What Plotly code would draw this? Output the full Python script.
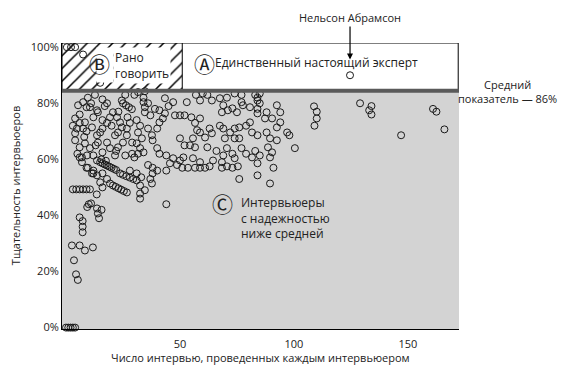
import plotly.graph_objects as go

# ---- data ----
interviews = [
    0.4, 2.2, 4, 7.5, 15, 124.6,
    0, 1, 2, 3, 4,
    2.6, 3.5, 4.4, 5.2, 6, 8.3, 11.8,
    6, 7.3, 7.3, 7.3,
    3, 4.5, 6, 7.5, 9, 10.5,
    9.3, 11, 13.5, 13.6, 15.6, 14, 14.5, 10, 44,
    15, 16, 17, 18, 19, 20, 21, 22, 15.5, 17.5,
    9, 12, 12, 13.6, 16, 18, 15, 19.3, 16,
    23.7, 25, 26.5, 28, 29.5, 31, 28, 31, 33,
    20.6, 21.8, 23, 24.2, 25.4, 26.7,
    32.5, 32.5, 32.5, 34.6, 37, 37.7, 38, 36, 38, 40, 44, 45.6, 48.7, 51,
    53.5, 56.6, 58.8, 61, 63, 68.4, 70.6, 73, 75.4, 84, 91, 76, 84, 89.5,
    6, 7, 9.6, 11.4,
    31.6, 34.6, 9.6, 12.7, 16, 24.5, 30, 34, 34, 34.6, 34.6, 43.4, 47, 5.3, 7.5,
    9, 10.5, 13.6, 14, 12, 4, 3, 4.8, 6, 8.3, 7.5, 11.4, 4, 20.6, 22.4, 19.3,
    25, 26.3, 27.6, 28.9, 16, 18, 16, 15, 13.6, 23.7, 24.5, 22.8, 21.5, 26.7,
    28, 31, 32.5, 31.6, 33.3, 31, 32.5, 31.6, 30, 29, 34, 37, 36, 37.7, 38,
    40, 41, 42.5, 43.4, 41, 47.8, 50, 50, 40, 41, 44, 47, 50, 4, 6, 8.3, 10.5,
    9.2, 7, 12, 13.6, 16, 19.3, 18, 22.8, 25, 26, 21.5, 26.7,
    58.8, 53, 64, 67.5, 70.6, 77, 83, 84, 84, 85, 84, 84, 77, 77.6, 80.7, 73,
    69, 68.4, 71, 75, 92.5, 94, 88, 87.3, 90.4, 94, 92.5, 97, 98, 100.4, 52,
    55, 58.8, 56.6, 58.8, 57.5, 63, 64, 67.5, 69, 72, 74, 76, 79, 80.7, 81.6,
    84, 88, 89.5, 88.6, 90.4, 89.5, 92.5, 55.7, 61, 69.7, 74, 76, 52, 54.4,
    56.6, 62, 66, 70.6, 77, 79, 81.6, 73, 74, 83, 85, 51.5, 55.7, 58.8, 64.5,
    68.4, 69,
    108.8, 110, 110, 109, 129, 134, 133, 134, 161, 162.5, 166, 147,
    57, 60, 62, 74, 85,
    6, 8, 11, 14, 17, 20, 23, 27, 5, 9, 13, 18, 22, 26, 29, 36, 39, 45,
]
thoroughness = [
    100, 100, 100, 97.4, 87.3, 90,
    0, 0, 0, 0, 0,
    29.3, 24, 19, 17, 29.3, 27.5, 28.6,
    39.3, 38, 36, 34,
    49.3, 49.3, 49.3, 49.3, 49.3, 49.3,
    43, 44.3, 47.5, 42.5, 42, 40.7, 39, 44, 44,
    59, 58.6, 58.2, 57.8, 57.4, 57, 56.6, 56.2, 60, 59.5,
    57, 56, 55, 54.3, 55, 53, 51.8, 51.4, 50,
    55, 54.5, 54, 53.5, 53, 52.5, 56, 55, 53.6,
    50.7, 50.2, 49.7, 49.2, 48.7, 48.2,
    50.7, 47.8, 46, 49, 53, 51.4, 55, 58, 57, 56, 56, 58.6, 58, 57,
    57, 57, 57, 57, 57.5, 57, 57.5, 57, 57.5, 58.6, 57, 53, 54.3, 51.4,
    60.7, 59, 57, 55,
    84, 84.3, 82, 83, 81.4, 81, 83, 82, 80.4, 78.6, 76.8, 81.8, 80.4, 79.3, 80.4,
    78.6, 78.6, 77.5, 76.8, 75, 74.6, 72, 71, 73, 73.2, 71, 71.4, 69.3, 76.8, 75, 75,
    80, 79.3, 78.6, 77.9, 74, 73, 71, 69.6, 68.6, 73.2, 71.4, 69.6, 68.6, 71,
    73, 74, 72, 69.6, 67.5, 65.7, 64, 62, 60.7, 62, 62.5, 75.7, 71, 68.6, 66.8,
    71, 73.2, 74.6, 76.4, 77.5, 75.7, 75.7, 67.5, 64, 62, 61.4, 60.4, 59.6, 66.8, 64.3, 65.7, 64,
    61.4, 60.7, 61.4, 59.6, 62.5, 64, 66, 64.3, 66, 61.4, 61.4, 68.6,
    81, 80.4, 81, 81.8, 82, 83, 83, 82, 81, 80, 78, 76.4, 80.4, 79.3, 78.6, 78.2,
    79.3, 76.8, 77.5, 76.8, 79.3, 76.8, 76.8, 74.6, 74.6, 73.2, 71.4, 69.6, 68.6, 64, 75.7,
    75, 74.6, 73, 69.6, 70.4, 71, 69.3, 72, 71, 69.6, 71, 71.4, 72, 73.2, 69.6,
    68.6, 69.6, 67.5, 64.3, 62.5, 60.7, 66.8, 67.5, 67.8, 67.5, 67.5, 67.5, 65, 65,
    64.3, 64.3, 63, 64, 64, 62, 60.7, 62, 60.4, 63, 61.4, 60.7, 60.4, 59, 59.6,
    59, 61.4,
    78.9, 77, 74.6, 72, 80, 79, 77.5, 76, 78, 77, 70.7, 68.6,
    83, 83.5, 83, 83.5, 83.5,
    76, 68, 80, 66, 79, 72, 77, 75, 62, 70, 65, 80, 63, 83, 66, 80, 78, 79,
]
y_ticks = [0, 20, 40, 60, 80, 100]
y_tick_labels = ["0%", "20%", "40%", "60%", "80%", "100%"]
x_ticks = [50, 100, 150]
x_tick_labels = ["50", "100", "150"]

# region boundaries
X_MIN, X_MAX = -1.75, 172.4
Y_MIN, Y_MAX = -0.5, 101.5
AVG_LEVEL = 84.5
EARLY_CUTOFF = 51

FONT = "Open Sans, sans-serif"
CIRCLE_FONT = "Noto Sans CJK SC, DejaVu Sans, sans-serif"

fig = go.Figure()

# hatched "too early to tell" region
fig.add_trace(go.Scatter(
    x=[X_MIN, EARLY_CUTOFF, EARLY_CUTOFF, X_MIN, X_MIN],
    y=[AVG_LEVEL, AVG_LEVEL, Y_MAX, Y_MAX, AVG_LEVEL],
    mode="lines", line=dict(color="black", width=1),
    fill="toself", fillcolor="white",
    fillpattern=dict(shape="/", fgcolor="black", fgopacity=1, bgcolor="white",
                     size=9, solidity=0.17),
    hoverinfo="skip", showlegend=False,
))

fig.add_trace(go.Scatter(
    x=interviews, y=thoroughness, mode="markers",
    marker=dict(symbol="circle-open", size=7, color="#1a1a1a", line=dict(width=1, color="#1a1a1a")),
    showlegend=False, cliponaxis=False,
))

shapes = [
    dict(type="rect", xref="paper", yref="y", x0=0, x1=1, y0=Y_MIN, y1=AVG_LEVEL,
         fillcolor="#d3d3d3", line=dict(width=0), layer="below"),
    dict(type="rect", xref="paper", yref="y", x0=0, x1=0.998, y0=AVG_LEVEL, y1=Y_MAX,
         fillcolor="rgba(0,0,0,0)", line=dict(width=1, color="black"), layer="below"),
    dict(type="line", xref="paper", yref="y", x0=0, x1=1, y0=AVG_LEVEL, y1=AVG_LEVEL,
         line=dict(width=4, color="#5a5a5a"), layer="above"),
]

annotations = [
    dict(x=124.6, y=95.6, text="Нельсон Абрамсон", showarrow=True, ax=0, ay=-42,
         arrowhead=2, arrowsize=1, arrowwidth=1.2, arrowcolor="black",
         font=dict(size=11, color="#222", family=FONT)),
    dict(x=60.6, y=94.5, xanchor="center", yanchor="middle", showarrow=False,
         text="Ⓐ", font=dict(size=21, color="#222", family=CIRCLE_FONT)),
    dict(x=64.6, y=94.5, xanchor="left", yanchor="middle", showarrow=False,
         text="Единственный настоящий эксперт",
         font=dict(size=12, color="#222", family=FONT)),
    dict(x=17.0, y=93.6, xanchor="center", yanchor="middle", showarrow=False,
         text=" ", bgcolor="white", width=16, height=34, borderpad=0),
    dict(x=14.9, y=94.3, xanchor="center", yanchor="middle", showarrow=False,
         text="Ⓑ", font=dict(size=21, color="#222", family=CIRCLE_FONT)),
    dict(x=20.8, y=93.6, xanchor="left", yanchor="middle", showarrow=False, align="left",
         text="Рано<br>говорить", bgcolor="white",
         font=dict(size=12, color="#222", family=FONT)),
    dict(x=68.7, y=44.5, xanchor="center", yanchor="middle", showarrow=False,
         text="Ⓒ", font=dict(size=21, color="#222", family=CIRCLE_FONT)),
    dict(x=76.0, y=39.1, xanchor="left", yanchor="middle", showarrow=False, align="left",
         text="Интервьюеры<br>с надежностью<br>ниже средней",
         font=dict(size=12, color="#222", family=FONT)),
    dict(xref="paper", yref="paper", x=1.123, y=0.83, xanchor="center", yanchor="middle",
         showarrow=False, align="center", text="Средний<br>показатель — 86%",
         font=dict(size=11, color="#222", family=FONT)),
    # axis titles
    dict(xref="paper", yref="paper", x=0.5, y=-0.098, xanchor="center", yanchor="middle",
         showarrow=False, text="Число интервью, проведенных каждым интервьюером",
         font=dict(size=11, color="#222", family=FONT)),
    dict(xref="paper", yref="paper", x=-0.118, y=0.5, xanchor="center", yanchor="middle",
         showarrow=False, textangle=-90, text="Тщательность интервьюеров",
         font=dict(size=11, color="#222", family=FONT)),
]

fig.update_layout(
    width=560, height=362,
    margin=dict(l=54, r=109, t=35, b=41),
    paper_bgcolor="white", plot_bgcolor="white",
    shapes=shapes, annotations=annotations,
    font=dict(family=FONT, size=11, color="#222"),
    xaxis=dict(range=[X_MIN, X_MAX], tickvals=x_ticks, ticktext=x_tick_labels,
               showgrid=False, zeroline=False, showline=True, linecolor="black", linewidth=1,
               ticks="outside", ticklen=5, tickcolor="rgba(0,0,0,0)"),
    yaxis=dict(range=[Y_MIN, Y_MAX], tickvals=y_ticks, ticktext=y_tick_labels,
               showgrid=False, zeroline=False, showline=True, linecolor="black", linewidth=1,
               ticks=""),
)

fig.write_html("out.html")
